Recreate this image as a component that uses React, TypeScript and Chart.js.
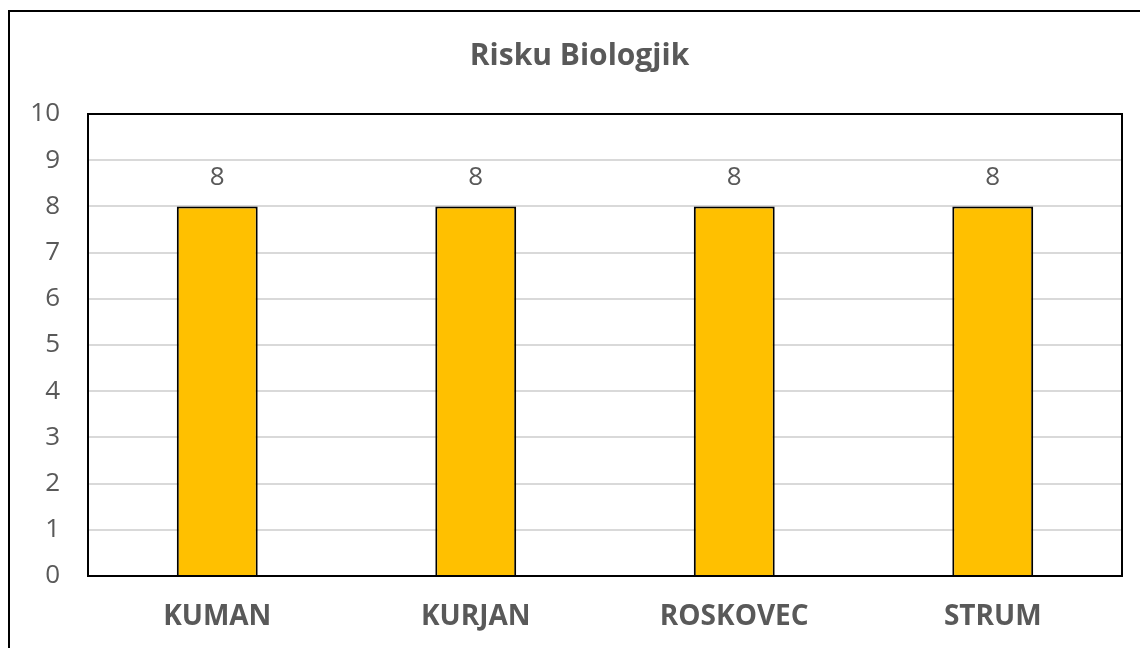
import React, { useEffect, useRef } from "react";
import { Chart, registerables } from "chart.js";

Chart.register(...registerables);

const categories = ["KUMAN", "KURJAN", "ROSKOVEC", "STRUM"];
const values = [8, 8, 8, 8];
const chartTitle = "Risku Biologjik";
const yMin = 0;
const yMax = 10;
const yStep = 1;

const TEXT = "#595959";
const FONT = "'Open Sans', 'Liberation Sans', sans-serif";

const frameAndLabels = {
  id: "frameAndLabels",
  afterDatasetsDraw(chart: any) {
    const { ctx, chartArea } = chart;
    ctx.save();
    ctx.strokeStyle = "#000000";
    ctx.lineWidth = 2;
    ctx.strokeRect(chartArea.left, chartArea.top, chartArea.right - chartArea.left, chartArea.bottom - chartArea.top);
    const meta = chart.getDatasetMeta(0);
    ctx.fillStyle = TEXT;
    ctx.font = `26px ${FONT}`;
    ctx.textAlign = "center";
    ctx.textBaseline = "middle";
    meta.data.forEach((bar: any, i: number) => {
      ctx.fillText(String(chart.data.datasets[0].data[i]), bar.x, bar.y - 29);
    });
    // chart title, centred on the outer chart frame
    ctx.font = `bold 30px ${FONT}`;
    ctx.fillText(chartTitle, 579.5, 56);
    ctx.restore();
  },
};

export default function App() {
  const ref = useRef<HTMLCanvasElement | null>(null);
  useEffect(() => {
    if (!ref.current) return;
    const chart = new Chart(ref.current, {
      type: "bar",
      data: {
        labels: categories,
        datasets: [
          {
            data: values,
            backgroundColor: "#FFC000",
            borderColor: "#000000",
            borderWidth: 2,
            borderSkipped: "bottom",
            barPercentage: 0.313,
            categoryPercentage: 1,
          },
        ],
      },
      options: {
        responsive: false,
        animation: false,
        layout: { padding: { left: 0, right: 18, top: 114, bottom: 0 } },
        plugins: {
          legend: { display: false },
          tooltip: { enabled: false },
          title: { display: false },
        },
        scales: {
          x: {
            grid: { display: false, drawTicks: false },
            border: { display: false },
            ticks: {
              color: TEXT,
              padding: 24,
              font: { family: FONT, size: 28, weight: "bold", lineHeight: 1.2 },
              maxRotation: 0,
            },
            afterFit: (s: any) => {
              s.height = 72;
            },
          },
          y: {
            min: yMin,
            max: yMax,
            grid: { color: "#D9D9D9", lineWidth: 2, drawTicks: false },
            border: { display: false },
            ticks: {
              stepSize: yStep,
              color: TEXT,
              padding: 28,
              font: { family: FONT, size: 26 },
            },
            afterFit: (s: any) => {
              s.width = 88;
            },
          },
        },
      },
      plugins: [frameAndLabels],
    });
    return () => chart.destroy();
  }, []);

  return (
    <div
      style={{
        position: "fixed",
        left: 0,
        top: 0,
        width: 1140,
        height: 648,
        background: "#ffffff",
        overflow: "hidden",
      }}
    >
      <canvas ref={ref} width={1140} height={648} style={{ position: "absolute", left: 0, top: 0, width: 1140, height: 648 }} />
      <div
        style={{
          position: "absolute",
          left: 8,
          top: 10,
          width: 1200,
          height: 700,
          border: "2.5px solid #000000",
          boxSizing: "border-box",
          pointerEvents: "none",
        }}
      />
    </div>
  );
}
